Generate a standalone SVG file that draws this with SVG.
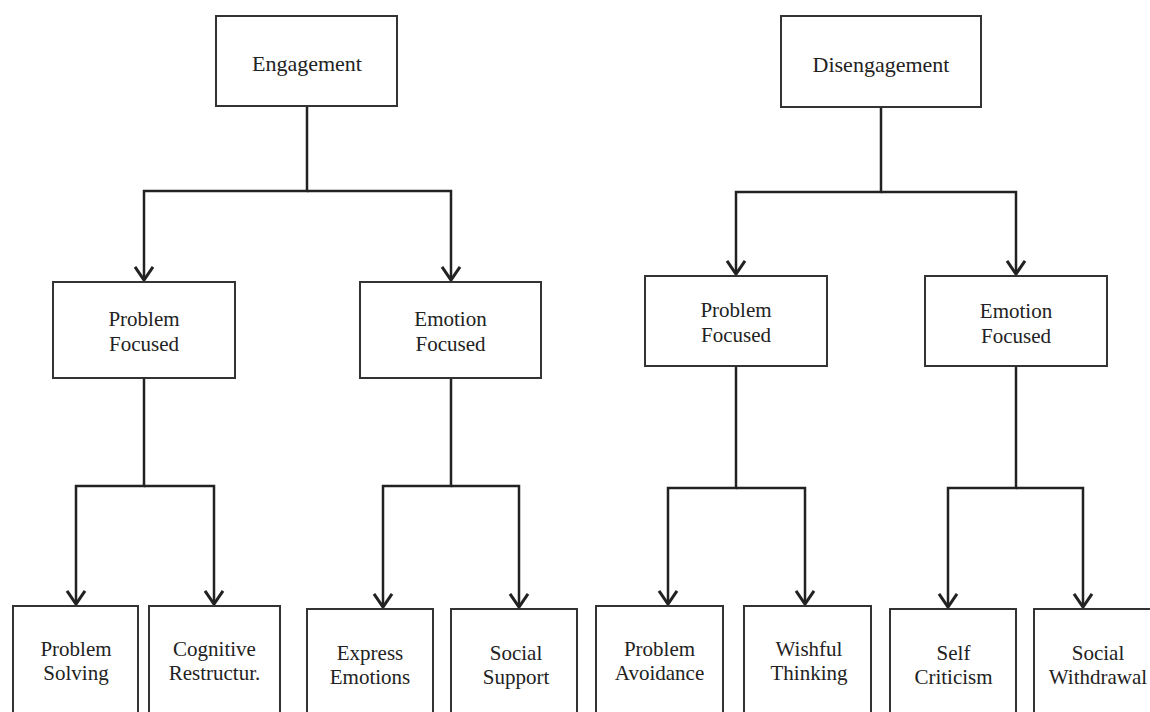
<svg xmlns="http://www.w3.org/2000/svg" width="1150" height="712" viewBox="0 0 1150 712">
<style>
.box{fill:#fff;stroke:#333;stroke-width:2}
.t{font-family:"Liberation Serif","Times New Roman",serif;font-size:21px;fill:#222;text-anchor:middle}
.tt{font-size:22px}
.c{fill:none;stroke:#222;stroke-width:2.5}
</style>
<defs>
<marker id="arr" markerUnits="userSpaceOnUse" markerWidth="24" markerHeight="24" viewBox="-12 -10 14 20" refX="0" refY="0" orient="auto" overflow="visible">
<path d="M-11,-7.5 L0,0 L-11,7.5" fill="none" stroke="#222" stroke-width="2.5"/>
</marker>
</defs>
<rect width="1150" height="712" fill="#fff"/>
<g id="connectors">
<path class="c" d="M307,106 V191 H144 V280" marker-end="url(#arr)"/>
<path class="c" d="M307,191 H451 V280" marker-end="url(#arr)"/>
<path class="c" d="M881,107 V192 H736 V274" marker-end="url(#arr)"/>
<path class="c" d="M881,192 H1016 V274" marker-end="url(#arr)"/>
<path class="c" d="M144,378 V486 H76 V604" marker-end="url(#arr)"/>
<path class="c" d="M144,486 H214 V604" marker-end="url(#arr)"/>
<path class="c" d="M451,378 V486 H383 V607" marker-end="url(#arr)"/>
<path class="c" d="M451,486 H519 V607" marker-end="url(#arr)"/>
<path class="c" d="M736,366 V488 H668 V604" marker-end="url(#arr)"/>
<path class="c" d="M736,488 H805 V604" marker-end="url(#arr)"/>
<path class="c" d="M1016,366 V488 H948 V607" marker-end="url(#arr)"/>
<path class="c" d="M1016,488 H1083 V607" marker-end="url(#arr)"/>
</g>
<g id="engagement"><rect class="box" x="216" y="16" width="181" height="90"/><text class="t tt" x="307" y="71">Engagement</text></g>
<g id="disengagement"><rect class="box" x="781" y="16" width="200" height="91"/><text class="t tt" x="881" y="72">Disengagement</text></g>
<g id="eng-problem"><rect class="box" x="53" y="282" width="182" height="96"/><text class="t" x="144" y="326">Problem</text><text class="t" x="144" y="351">Focused</text></g>
<g id="eng-emotion"><rect class="box" x="360" y="282" width="181" height="96"/><text class="t" x="450.5" y="326">Emotion</text><text class="t" x="450.5" y="351">Focused</text></g>
<g id="dis-problem"><rect class="box" x="645" y="276" width="182" height="90"/><text class="t" x="736" y="317">Problem</text><text class="t" x="736" y="342">Focused</text></g>
<g id="dis-emotion"><rect class="box" x="925" y="276" width="182" height="90"/><text class="t" x="1016" y="318">Emotion</text><text class="t" x="1016" y="343">Focused</text></g>
<g id="problem-solving"><rect class="box" x="13" y="606" width="125" height="120"/><text class="t" x="76" y="656">Problem</text><text class="t" x="76" y="680">Solving</text></g>
<g id="cognitive"><rect class="box" x="149" y="606" width="131" height="120"/><text class="t" x="214.5" y="656">Cognitive</text><text class="t" x="214.5" y="680">Restructur.</text></g>
<g id="express"><rect class="box" x="307" y="609" width="126" height="120"/><text class="t" x="370" y="660">Express</text><text class="t" x="370" y="684">Emotions</text></g>
<g id="social-support"><rect class="box" x="451" y="609" width="126" height="120"/><text class="t" x="516" y="660">Social</text><text class="t" x="516" y="684">Support</text></g>
<g id="avoidance"><rect class="box" x="596" y="606" width="127" height="120"/><text class="t" x="659.5" y="656">Problem</text><text class="t" x="659.5" y="680">Avoidance</text></g>
<g id="wishful"><rect class="box" x="744" y="606" width="127" height="120"/><text class="t" x="809" y="656">Wishful</text><text class="t" x="809" y="680">Thinking</text></g>
<g id="self-criticism"><rect class="box" x="890" y="609" width="126" height="120"/><text class="t" x="953.5" y="660">Self</text><text class="t" x="953.5" y="684">Criticism</text></g>
<g id="withdrawal"><rect class="box" x="1034" y="609" width="130" height="120"/><text class="t" x="1098" y="660">Social</text><text class="t" x="1098" y="684">Withdrawal</text></g>
</svg>
